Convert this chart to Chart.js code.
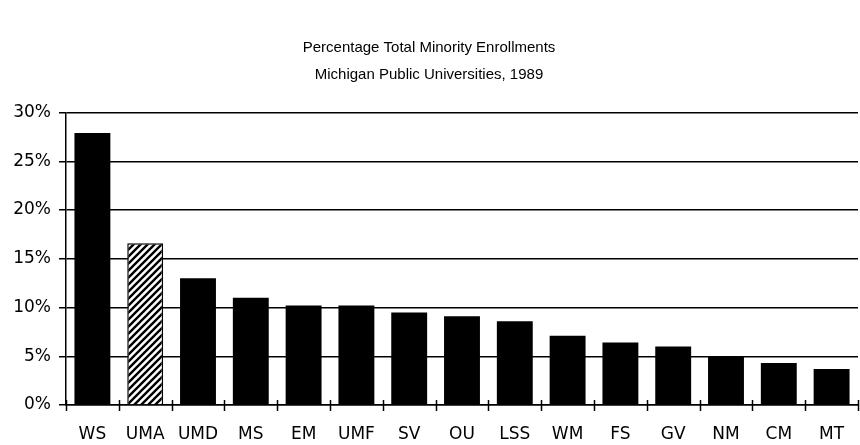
<!DOCTYPE html>
<html>
<head>
<meta charset="utf-8">
<script src="https://cdn.jsdelivr.net/npm/chart.js@4"></script>
<style>
  html, body { margin: 0; padding: 0; background: #fff; }
  #wrap { width: 860px; height: 445px; }
</style>
</head>
<body>
<div id="wrap"><canvas id="chart" width="860" height="445"></canvas></div>
<script>
  // -- Data --
  var SCHOOLS = ['WS', 'UMA', 'UMD', 'MS', 'EM', 'UMF', 'SV', 'OU', 'LSS', 'WM', 'FS', 'GV', 'NM', 'CM', 'MT'];
  var MINORITY_PCT = [27.9, 16.6, 13.0, 11.0, 10.2, 10.2, 9.5, 9.1, 8.6, 7.1, 6.4, 6.0, 5.0, 4.3, 3.7];
  var HATCHED = 'UMA';
  var TITLE_LINES = ['Percentage Total Minority Enrollments', 'Michigan Public Universities, 1989'];

  var TITLE_FONT = "'Liberation Sans', Arial, Helvetica, sans-serif";
  var TICK_FONT = "'DejaVu Sans', sans-serif";

  // -- Diagonal hatch pattern --
  function makeHatch() {
    var size = 7;
    var c = document.createElement('canvas');
    c.width = size; c.height = size;
    var g = c.getContext('2d');
    g.fillStyle = '#fff';
    g.fillRect(0, 0, size, size);
    g.strokeStyle = '#000';
    g.lineWidth = 2.4;
    g.beginPath();
    g.moveTo(-1, size + 1); g.lineTo(size + 1, -1);
    g.moveTo(-1, 1); g.lineTo(1, -1);
    g.moveTo(size - 1, size + 1); g.lineTo(size + 1, size - 1);
    g.stroke();
    return g.createPattern(c, 'repeat');
  }

  var hatch = makeHatch();
  var fills = SCHOOLS.map(function (s) { return s === HATCHED ? hatch : '#000'; });

  // ticks crossing the x axis at category boundaries
  var crossTicks = {
    id: 'crossTicks',
    afterDatasetsDraw: function (chart) {
      var ctx = chart.ctx, a = chart.chartArea;
      var step = (a.right - a.left) / SCHOOLS.length;
      ctx.save();
      ctx.strokeStyle = '#000';
      ctx.lineWidth = 1.5;
      ctx.beginPath();
      for (var i = 0; i <= SCHOOLS.length; i++) {
        var px = Math.round(a.left + step * i) + 0.5;
        ctx.moveTo(px, a.bottom - 5);
        ctx.lineTo(px, a.bottom + 6);
      }
      ctx.stroke();
      ctx.restore();
    }
  };

  new Chart(document.getElementById('chart'), {
    type: 'bar',
    data: {
      labels: SCHOOLS,
      datasets: [{
        data: MINORITY_PCT,
        backgroundColor: fills,
        borderColor: '#000',
        borderWidth: SCHOOLS.map(function (s) { return s === HATCHED ? 1.5 : 0; }),
        categoryPercentage: 1,
        barPercentage: 0.68,
      }]
    },
    options: {
      responsive: false,
      animation: false,
      layout: { padding: { left: 0, right: 2, top: 0, bottom: 0 } },
      plugins: {
        legend: { display: false },
        tooltip: { enabled: false },
        title: {
          display: true,
          text: TITLE_LINES,
          color: '#000',
          font: { family: TITLE_FONT, size: 15, weight: 'normal', lineHeight: 1.75 },
          padding: { top: 35, bottom: 25 },
        },
      },
      scales: {
        x: {
          grid: { display: false },
          border: { display: true, color: '#000', width: 1.5 },
          ticks: { color: '#000', font: { family: TICK_FONT, size: 17 }, padding: 11, maxRotation: 0, autoSkip: false },
          afterFit: function (s) { s.height = 40; },
        },
        y: {
          min: 0,
          max: 30,
          grid: { color: '#000', lineWidth: 1.5, tickLength: 7, drawTicks: true },
          border: { display: true, color: '#000', width: 1.5 },
          ticks: {
            stepSize: 5,
            color: '#000',
            padding: 8,
            font: { family: TICK_FONT, size: 17 },
            callback: function (v) { return v + '%'; }
          },
          afterFit: function (s) { s.width = 66; },
        },
      },
    },
    plugins: [crossTicks]
  });
</script>
</body>
</html>
